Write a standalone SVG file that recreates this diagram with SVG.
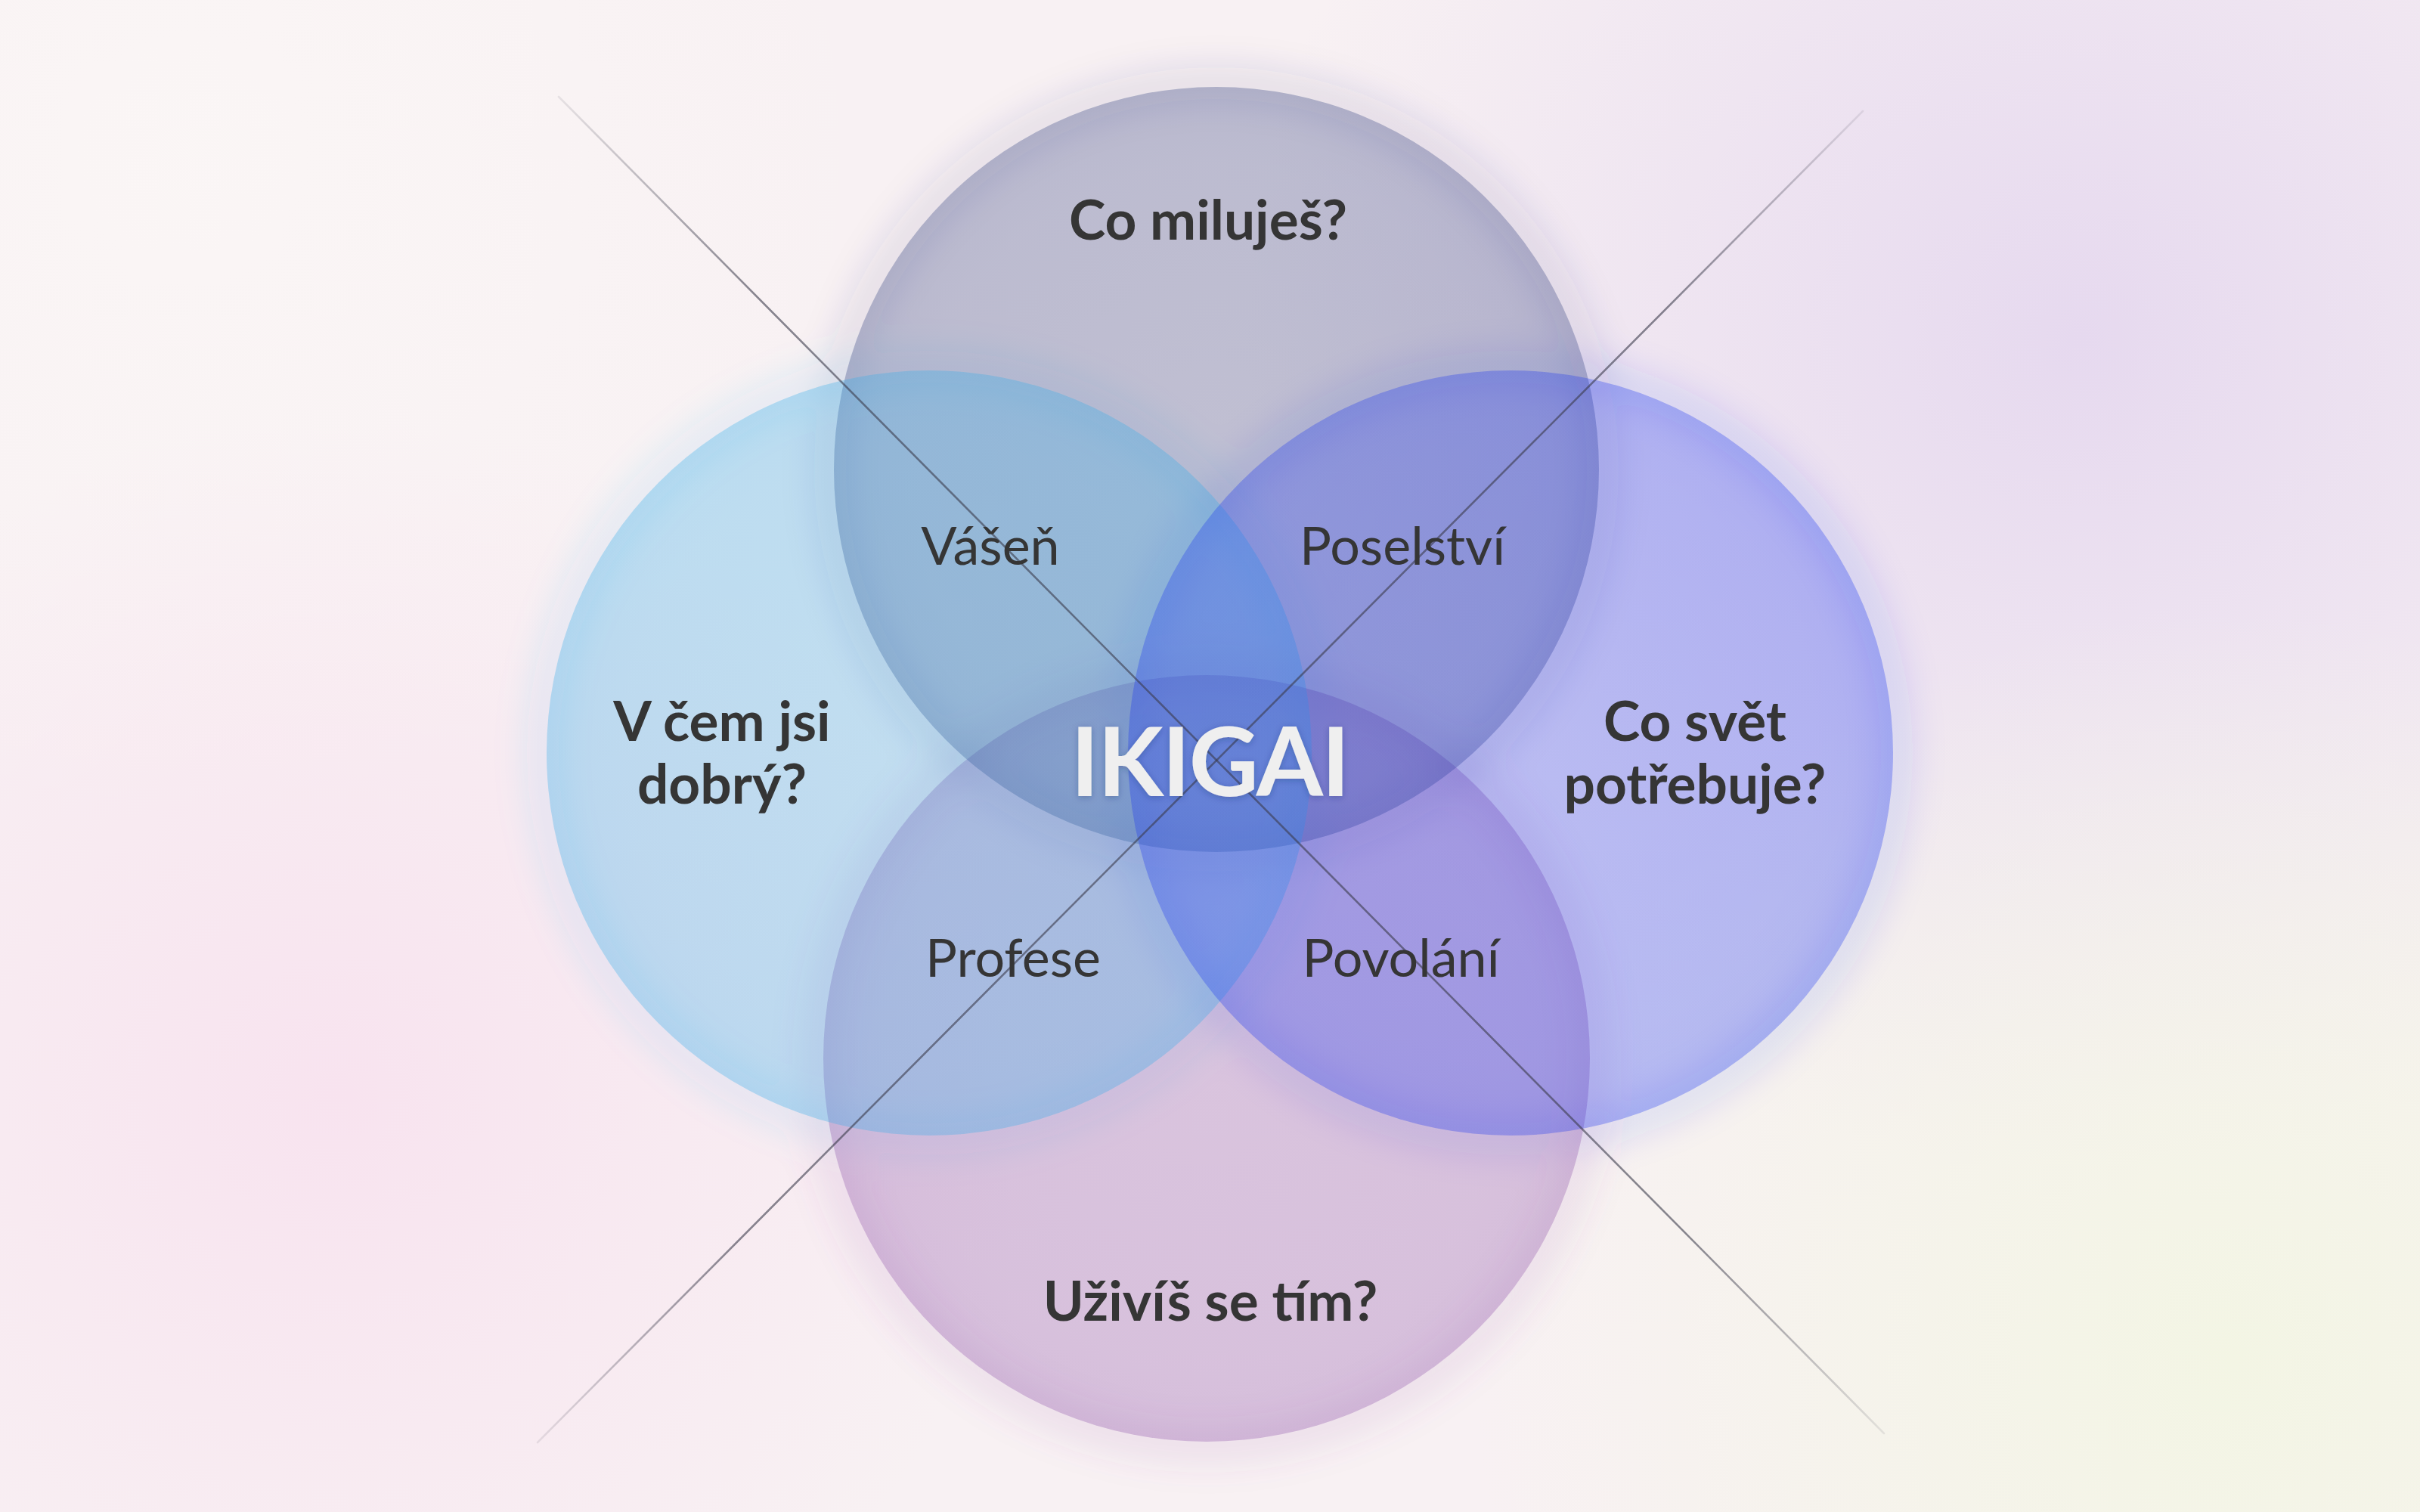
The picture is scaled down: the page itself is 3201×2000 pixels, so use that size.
<svg xmlns="http://www.w3.org/2000/svg" width="3201" height="2000" viewBox="0 0 3201 2000">
  <defs>
    <radialGradient id="bgTR" cx="2750" cy="450" r="1100" gradientUnits="userSpaceOnUse">
      <stop offset="0" stop-color="#e6d9ef" stop-opacity="1"/>
      <stop offset="1" stop-color="#e6d9ef" stop-opacity="0"/>
    </radialGradient>
    <radialGradient id="bgBL" cx="450" cy="1450" r="900" gradientUnits="userSpaceOnUse">
      <stop offset="0" stop-color="#f8e3ef" stop-opacity="1"/>
      <stop offset="1" stop-color="#f8e3ef" stop-opacity="0"/>
    </radialGradient>
    <radialGradient id="bgBR" cx="2950" cy="1800" r="1000" gradientUnits="userSpaceOnUse">
      <stop offset="0" stop-color="#f3f5e4" stop-opacity="1"/>
      <stop offset="1" stop-color="#f3f5e4" stop-opacity="0"/>
    </radialGradient>
    <radialGradient id="bgTL" cx="250" cy="200" r="900" gradientUnits="userSpaceOnUse">
      <stop offset="0" stop-color="#fbf7f6" stop-opacity="0.8"/>
      <stop offset="1" stop-color="#fbf7f6" stop-opacity="0"/>
    </radialGradient>
    <radialGradient id="gTop">
      <stop offset="0" stop-color="#313f7e" stop-opacity="0.28"/>
      <stop offset="0.8" stop-color="#313f7e" stop-opacity="0.3"/>
      <stop offset="1" stop-color="#313f7e" stop-opacity="0.32"/>
    </radialGradient>
    <radialGradient id="gLeft">
      <stop offset="0" stop-color="#35ade9" stop-opacity="0.28"/>
      <stop offset="0.8" stop-color="#35ade9" stop-opacity="0.3"/>
      <stop offset="1" stop-color="#35ade9" stop-opacity="0.32"/>
    </radialGradient>
    <radialGradient id="gRight">
      <stop offset="0" stop-color="#1a35f0" stop-opacity="0.27"/>
      <stop offset="0.8" stop-color="#1a35f0" stop-opacity="0.29"/>
      <stop offset="1" stop-color="#1a35f0" stop-opacity="0.31"/>
    </radialGradient>
    <radialGradient id="gBottom">
      <stop offset="0" stop-color="#8b50a7" stop-opacity="0.28"/>
      <stop offset="0.8" stop-color="#8b50a7" stop-opacity="0.3"/>
      <stop offset="1" stop-color="#8b50a7" stop-opacity="0.32"/>
    </radialGradient>
    <filter id="glow" x="-20%" y="-20%" width="140%" height="140%">
      <feGaussianBlur stdDeviation="22"/>
    </filter>
    <filter id="tshadow" x="-10%" y="-20%" width="120%" height="140%">
      <feDropShadow dx="0" dy="2" stdDeviation="4" flood-color="#203060" flood-opacity="0.3"/>
    </filter>
    <linearGradient id="l1" gradientUnits="userSpaceOnUse" x1="739" y1="128" x2="2492" y2="1896">
      <stop offset="0" stop-color="#3a3a4a" stop-opacity="0.1"/>
      <stop offset="0.15" stop-color="#3a3a4a" stop-opacity="0.6"/>
      <stop offset="0.85" stop-color="#3a3a4a" stop-opacity="0.6"/>
      <stop offset="1" stop-color="#3a3a4a" stop-opacity="0.1"/>
    </linearGradient>
    <linearGradient id="l2" gradientUnits="userSpaceOnUse" x1="2464" y1="147" x2="711" y2="1908">
      <stop offset="0" stop-color="#3a3a4a" stop-opacity="0.1"/>
      <stop offset="0.15" stop-color="#3a3a4a" stop-opacity="0.6"/>
      <stop offset="0.85" stop-color="#3a3a4a" stop-opacity="0.6"/>
      <stop offset="1" stop-color="#3a3a4a" stop-opacity="0.1"/>
    </linearGradient>
    <style>
      .q { font-family: Lato, "Liberation Sans", sans-serif; font-weight: 700; font-size: 73px; fill: #353535; text-anchor: middle; }
      .r { font-family: Lato, "Liberation Sans", sans-serif; font-weight: 400; font-size: 70px; fill: #353535; text-anchor: middle; }
      .big { font-family: Lato, "Liberation Sans", sans-serif; font-weight: 700; font-size: 127px; fill: #efefef; text-anchor: middle; letter-spacing: -2px; }
      .ring { fill: none; stroke-width: 44; stroke-opacity: 0.11; }
    </style>
  </defs>

  <g id="background">
    <rect width="3201" height="2000" fill="#f8f1f3"/>
    <rect width="3201" height="2000" fill="url(#bgTL)"/>
    <rect width="3201" height="2000" fill="url(#bgTR)"/>
    <rect width="3201" height="2000" fill="url(#bgBL)"/>
    <rect width="3201" height="2000" fill="url(#bgBR)"/>
  </g>

  <g id="glows" filter="url(#glow)">
    <circle class="ring" cx="1596" cy="1400" r="512" stroke="#8b50a7"/>
    <circle class="ring" cx="1609" cy="621" r="511" stroke="#313f7e"/>
    <circle class="ring" cx="1229" cy="996" r="511" stroke="#35ade9"/>
    <circle class="ring" cx="1998" cy="996" r="511" stroke="#1a35f0"/>
  </g>

  <g id="node-bottom">
    <circle cx="1596" cy="1400" r="507" fill="url(#gBottom)"/>
  </g>
  <g id="node-top">
    <circle cx="1609" cy="621" r="506" fill="url(#gTop)"/>
  </g>
  <g id="node-left">
    <circle cx="1229" cy="996" r="506" fill="url(#gLeft)"/>
  </g>
  <g id="node-right">
    <circle cx="1998" cy="996" r="506" fill="url(#gRight)"/>
  </g>

  <g id="connectors" fill="none" stroke-width="2.6" stroke-linecap="round">
    <line x1="739" y1="128" x2="2492" y2="1896" stroke="url(#l1)"/>
    <line x1="2464" y1="147" x2="711" y2="1908" stroke="url(#l2)"/>
  </g>

  <g id="labels">
    <g id="label-top"><text class="q" x="1598" y="317">Co miluješ?</text></g>
    <g id="label-left"><text class="q" x="955" y="980">V čem jsi</text><text class="q" x="955" y="1063">dobrý?</text></g>
    <g id="label-right"><text class="q" x="2242" y="980">Co svět</text><text class="q" x="2242" y="1063">potřebuje?</text></g>
    <g id="label-bottom"><text class="q" x="1601" y="1747">Uživíš se tím?</text></g>
    <g id="label-vasen"><text class="r" x="1310" y="747">Vášeň</text></g>
    <g id="label-poselstvi"><text class="r" x="1855" y="747">Poselství</text></g>
    <g id="label-profese"><text class="r" x="1340" y="1292">Profese</text></g>
    <g id="label-povolani"><text class="r" x="1853" y="1292">Povolání</text></g>
    <g id="label-ikigai"><text class="big" x="1600" y="1053" filter="url(#tshadow)">IKIGAI</text></g>
  </g>
</svg>
